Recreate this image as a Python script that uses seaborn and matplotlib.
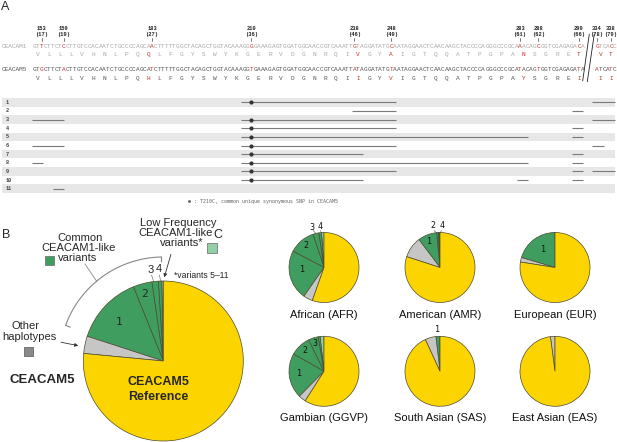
import numpy as np
import matplotlib
matplotlib.use("Agg")
import matplotlib.pyplot as plt
from matplotlib.patches import Rectangle
import seaborn as sns

sns.set_theme(style="white")
plt.rcParams['font.family'] = ['Liberation Sans', 'DejaVu Sans']
MONO = ['Liberation Mono', 'DejaVu Sans Mono']

W, H = 617, 442

# Panel A: aligned exon sequences (first base = position 151)
ceacam1_nt = ("GTTCTTCTCCTTGTCCACAATCTGCCCCAGCAACTTTTTGGCTACAGCTGGTACAAAGGG"
              "GAAAGAGTGGATGGCAACCGTCAAATTGTAGGATATGCAATAGGAACTCAACAAGCTACC"
              "CCAGGGCCCGCAAACAGCGGTCGAGAGACA")
ceacam5_nt = ("GTGCTTCTACTTGTCCACAATCTGCCCCAGCATCTTTTTGGCTACAGCTGGTACAAAGGT"
              "GAAAGAGTGGATGGCAACCGTCAAATTATAGGATATGTAATAGGAACTCAACAAGCTACC"
              "CCAGGGCCCGCATACAGTGGTCGAGAGATA")
ceacam1_aa = "VLLLVHNLPQQLFGYSWYKGERVDGNRQIVGYAIGTQQATPGPANSGRET"
ceacam5_aa = "VLLLVHNLPQHLFGYSWYKGERVDGNRQIIGYVIGTQQATPGPAYSGREI"
# after the break, first base = position 334
ceacam1_tail_nt = "GTCACC"
ceacam5_tail_nt = "ATCATC"
ceacam1_tail_aa = "VT"
ceacam5_tail_aa = "II"

snp_pos = [153, 159, 183, 210, 238, 248, 283, 288, 299, 334, 338]
snp_codon = [17, 19, 27, 36, 46, 49, 61, 62, 66, 78, 79]

hap_ids = list(range(1, 12))
hap_segments = [
    [(207.3, 249.2), (332.7, 339.0)],
    [(237.3, 249.2), (297.2, 300.2)],
    [(150.3, 159.2), (207.3, 249.2), (332.7, 339.0)],
    [(207.3, 249.2), (297.2, 300.2)],
    [(207.3, 285.2), (297.2, 300.2)],
    [(150.3, 159.2), (207.3, 249.2), (332.7, 335.9)],
    [(207.3, 240.2), (297.2, 300.2)],
    [(150.3, 153.3), (207.3, 285.2), (297.2, 300.2)],
    [(207.3, 249.2), (297.2, 300.2), (332.7, 339.0)],
    [(207.3, 240.2), (282.2, 285.2), (297.2, 300.2)],
    [(156.2, 159.2)],
]
hap_t210c = [True, False, True, True, True, True, True, True, True, True, False]

# Panel B / C: haplotype frequencies (%), order: variants 5-11, 4, 3, 2, 1, other, reference
groups = ["variants 5-11", "4", "3", "2", "1", "Other haplotypes", "CEACAM5 Reference"]
all_freq = [0.3, 0.7, 1.3, 3.8, 13.9, 3.5, 76.5]
afr_freq = [1.15, 1.25, 2.7, 12.2, 23.0, 4.3, 55.4]
amr_freq = [0.3, 0.5, 0.0, 0.75, 8.75, 9.7, 80.0]
eur_freq = [0.0, 0.0, 0.0, 0.0, 20.4, 2.1, 77.5]
ggvp_freq = [1.8, 0.9, 4.6, 9.5, 20.8, 3.4, 59.0]
sas_freq = [0.0, 0.0, 0.0, 0.0, 1.9, 5.0, 93.1]
eas_freq = [0.0, 0.0, 0.0, 0.0, 0.0, 2.1, 97.9]
pop_labels = ["African (AFR)", "American (AMR)", "European (EUR)",
              "Gambian (GGVP)", "South Asian (SAS)", "East Asian (EAS)"]

c_low = '#92cfa5'
c_var = '#3f9e5f'
c_oth = '#c6c6c6'
c_ref = '#fcd500'
pie_colors = [c_low, c_var, c_var, c_var, c_var, c_oth, c_ref]
red = '#c83232'


def seq_x(pos):
    if pos < 320:
        return 34.3 + (pos - 151) * 3.68
    return 597 + (pos - 334) * 3.5


fig = plt.figure(figsize=(W / 100, H / 100), dpi=100)
ax = fig.add_axes([0, 0, 1, 1], zorder=10)
ax.set_xlim(0, W)
ax.set_ylim(H, 0)
ax.set_facecolor('none')
ax.axis('off')

# ---------- A ----------
ax.text(5, 7, "A", fontsize=9, ha='center', va='center')

for p, c in zip(snp_pos, snp_codon):
    x = seq_x(p)
    ax.text(x, 28.7, str(p), fontsize=3.9, family=MONO, weight='bold', ha='center', va='center', color='#222')
    ax.text(x, 34.3, "(%d)" % c, fontsize=3.9, family=MONO, weight='bold', ha='center', va='center', color='#222')
    ax.plot([x, x], [38, 41], color='#444', lw=0.5)

rows = [(ceacam1_nt, ceacam1_tail_nt, ceacam1_aa, ceacam1_tail_aa, 46.7, 54.5, '#a8a8a8', "CEACAM1"),
        (ceacam5_nt, ceacam5_tail_nt, ceacam5_aa, ceacam5_tail_aa, 69.3, 78.7, '#555555', "CEACAM5")]
for nt, tail_nt, aa, tail_aa, y_nt, y_aa, col, name in rows:
    ax.text(26.5, y_nt, name, fontsize=4.4, family=MONO, ha='right', va='center', color=col)
    for i, ch in enumerate(nt):
        p = 151 + i
        ax.text(seq_x(p), y_nt, ch, fontsize=4.4, family=MONO, ha='center', va='center',
                color=red if p in snp_pos else col)
    for i, ch in enumerate(tail_nt):
        p = 334 + i
        ax.text(seq_x(p), y_nt, ch, fontsize=4.4, family=MONO, ha='center', va='center',
                color=red if p in snp_pos else col)
    for j, ch in enumerate(aa):
        diff = ceacam1_aa[j] != ceacam5_aa[j]
        ax.text(seq_x(152 + 3 * j), y_aa, ch, fontsize=4.4, family=MONO, ha='center', va='center',
                color=red if diff else col)
    for j, ch in enumerate(tail_aa):
        diff = ceacam1_tail_aa[j] != ceacam5_tail_aa[j]
        ax.text(seq_x(335 + 3 * j), y_aa, ch, fontsize=4.4, family=MONO, ha='center', va='center',
                color=red if diff else col)

# break marks
ax.plot([582.7, 589.3], [81, 34], color='#222', lw=0.6)
ax.plot([587.3, 594.3], [81.7, 34], color='#222', lw=0.6)

# haplotype rows
row_h = 8.64
for k, (hid, segs, dot) in enumerate(zip(hap_ids, hap_segments, hap_t210c)):
    y = 102.3 + k * row_h
    if k % 2 == 0:
        ax.add_patch(Rectangle((2, y - row_h / 2), 613, row_h, color='#e7e7e7', lw=0))
    ax.text(6, y, str(hid), fontsize=3.8, family=MONO, weight='bold', ha='left', va='center', color='#444')
    for a, b in segs:
        ax.plot([seq_x(a), seq_x(b)], [y, y], color='#7a7a7a', lw=0.8, solid_capstyle='butt')
    if dot:
        ax.plot(seq_x(210), y, 'o', ms=2.0, color='#333')

ax.text(188, 201, "\u25cf : T210C, common unique synonymous SNP in CEACAM5", fontsize=3.6,
        family=['DejaVu Sans Mono'], ha='left', va='center', color='#666')


# ---------- pies ----------
def add_pie(cx, cy, r, values):
    pad = 1.05
    axp = fig.add_axes([(cx - r * pad) / W, 1 - (cy + r * pad) / H, 2 * r * pad / W, 2 * r * pad / H])
    axp.pie(values, colors=pie_colors, startangle=90, counterclock=True,
            wedgeprops=dict(edgecolor='#4d4a30', linewidth=0.5))
    axp.set_xlim(-pad, pad)
    axp.set_ylim(-pad, pad)
    axp.set_aspect('equal')
    axp.axis('off')
    return axp


add_pie(163.3, 361, 80, all_freq)
pop_freq = [afr_freq, amr_freq, eur_freq, ggvp_freq, sas_freq, eas_freq]
pie_cx = [324, 440, 555]
pie_cy = [267.5, 371.3]
for i, (freq, lab) in enumerate(zip(pop_freq, pop_labels)):
    cx = pie_cx[i % 3]
    cy = pie_cy[i // 3]
    add_pie(cx, cy, 35, freq)
    ax.text(cx, cy + 47, lab, fontsize=8, ha='center', va='center', color='#111')

# ---------- B ----------
ax.text(6, 235, "B", fontsize=9, ha='center', va='center')
ax.text(119.3, 321.7, "1", fontsize=8, family=['DejaVu Sans Mono'], ha='center', va='center')
ax.text(144, 294, "2", fontsize=8, family=['DejaVu Sans Mono'], ha='center', va='center')
ax.text(150.7, 270, "3", fontsize=8, ha='center', va='center')
ax.text(159.3, 269, "4", fontsize=8, ha='center', va='center')
ax.plot([151.5, 153.5], [275, 281], color='#555', lw=0.4)
ax.plot([159.5, 160.5], [275, 281], color='#555', lw=0.4)
ax.text(201, 276, "*variants 5\u201311", fontsize=6.2, ha='center', va='center')

ax.text(178, 223, "Low Frequency", fontsize=8, ha='center', va='center')
ax.text(176, 233.5, "CEACAM1-like", fontsize=8, ha='center', va='center')
ax.text(182, 243.5, "variants*", fontsize=8, ha='center', va='center')
ax.add_patch(Rectangle((207, 243), 10, 9.5, facecolor=c_low, edgecolor='#666', lw=0.5))
ax.annotate("", xy=(163.5, 280), xytext=(171.7, 251.7),
            arrowprops=dict(arrowstyle='-|>', color='#333', lw=0.6, mutation_scale=5))

ax.text(80, 237.7, "Common", fontsize=8, ha='center', va='center')
ax.text(78.3, 247.7, "CEACAM1-like", fontsize=8, ha='center', va='center')
ax.text(78, 257.7, "variants", fontsize=8, ha='center', va='center')
ax.add_patch(Rectangle((45, 255.7), 9, 9.5, facecolor=c_var, edgecolor='#666', lw=0.5))

# bracket around common variants
ang = np.radians(np.linspace(91, 160, 80))
ax.plot(163.3 + 104 * np.cos(ang), 361 - 104 * np.sin(ang), color='#888', lw=0.8)
for a in (91, 160):
    t = np.radians(a)
    ax.plot([163.3 + 104 * np.cos(t), 163.3 + 99 * np.cos(t)],
            [361 - 104 * np.sin(t), 361 - 99 * np.sin(t)], color='#888', lw=0.8)
ax.plot([85, 97], [264, 281.7], color='#888', lw=0.6)

ax.text(26, 325.7, "Other", fontsize=8, ha='center', va='center')
ax.text(29.7, 337.3, "haplotypes", fontsize=8, ha='center', va='center')
ax.add_patch(Rectangle((24, 346.7), 9.3, 9, facecolor='#8a8a8a', edgecolor='#555', lw=0.5))
ax.annotate("", xy=(81, 346.2), xytext=(58.3, 341.7),
            arrowprops=dict(arrowstyle='-|>', color='#333', lw=0.6, mutation_scale=5))

ax.text(42.7, 380, "CEACAM5", fontsize=9.5, weight='bold', ha='center', va='center')
ax.text(158.3, 381.7, "CEACAM5", fontsize=9, weight='bold', ha='center', va='center')
ax.text(158.3, 396.7, "Reference", fontsize=9, weight='bold', ha='center', va='center')

# ---------- C ----------
ax.text(218, 235, "C", fontsize=9, ha='center', va='center')
nums = [("1", 302.7, 269.3), ("2", 306, 245), ("3", 312.3, 227.7), ("4", 320, 226.7),
        ("1", 429.3, 241), ("2", 433.3, 225.7), ("4", 441.7, 225.7),
        ("1", 543.3, 250), ("1", 437.3, 330),
        ("1", 299.3, 373.3), ("2", 305, 350.7), ("3", 315, 343.3)]
for s, x, y in nums:
    ax.text(x, y, s, fontsize=6, family=['DejaVu Sans Mono'], ha='center', va='center', color='#111')
for x0, x1 in [(313, 316), (320.5, 321.5), (434, 437.5), (441.5, 439.8)]:
    ax.plot([x0, x1], [230.5, 233.5], color='#555', lw=0.4)

fig.savefig("out.png", dpi=100)
